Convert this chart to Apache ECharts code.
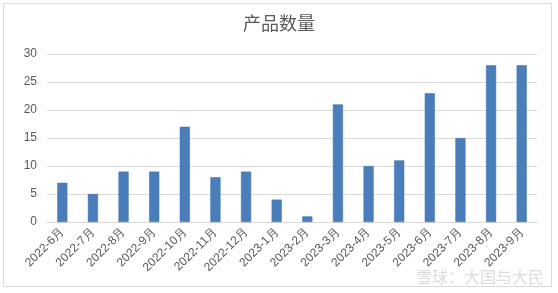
<!DOCTYPE html>
<html><head><meta charset="utf-8">
<script src="https://cdn.jsdelivr.net/npm/echarts@6/dist/echarts.min.js"></script>
<style>html,body{margin:0;padding:0;background:#fff}#c{width:558px;height:293px}</style>
</head><body><div id="c"></div>
<script>
const categories = ['2022-6月','2022-7月','2022-8月','2022-9月','2022-10月','2022-11月','2022-12月','2023-1月','2023-2月','2023-3月','2023-4月','2023-5月','2023-6月','2023-7月','2023-8月','2023-9月'];
const values = [7,5,9,9,17,8,9,4,1,21,10,11,23,15,28,28];
const chart = echarts.init(document.getElementById('c'));
chart.setOption({
  animation:false,
  title:{text:'产品数量',left:'center',top:9,textStyle:{fontFamily:'Noto Sans CJK SC',fontWeight:'normal',fontSize:18,color:'#595959'}},
  graphic:[
    {type:'rect',shape:{x:3.5,y:3.5,width:548,height:283},style:{fill:'none',stroke:'#d9d9d9',lineWidth:1}},
    {type:'text',right:14,bottom:8,style:{text:'雪球：大国与大民',fill:'rgba(210,210,210,0.8)',font:'16px "Noto Sans CJK SC"'}}
  ],
  grid:{left:47,right:21,top:54,bottom:71},
  xAxis:{type:'category',data:categories,
    axisLine:{lineStyle:{color:'#d9d9d9'}},axisTick:{show:false},
    axisLabel:{rotate:45,interval:0,color:'#595959',fontSize:12,fontFamily:'Liberation Sans',margin:8}},
  yAxis:{type:'value',min:0,max:30,interval:5,
    axisLine:{show:false},axisTick:{show:false},
    splitLine:{lineStyle:{color:'#d9d9d9'}},
    axisLabel:{color:'#595959',fontSize:12,fontFamily:'Liberation Sans',margin:10}},
  series:[{type:'bar',data:values,barWidth:'33%',itemStyle:{color:'#4a7ebb',borderColor:'#3f6fa8',borderWidth:0.5}}]
});
</script></body></html>
